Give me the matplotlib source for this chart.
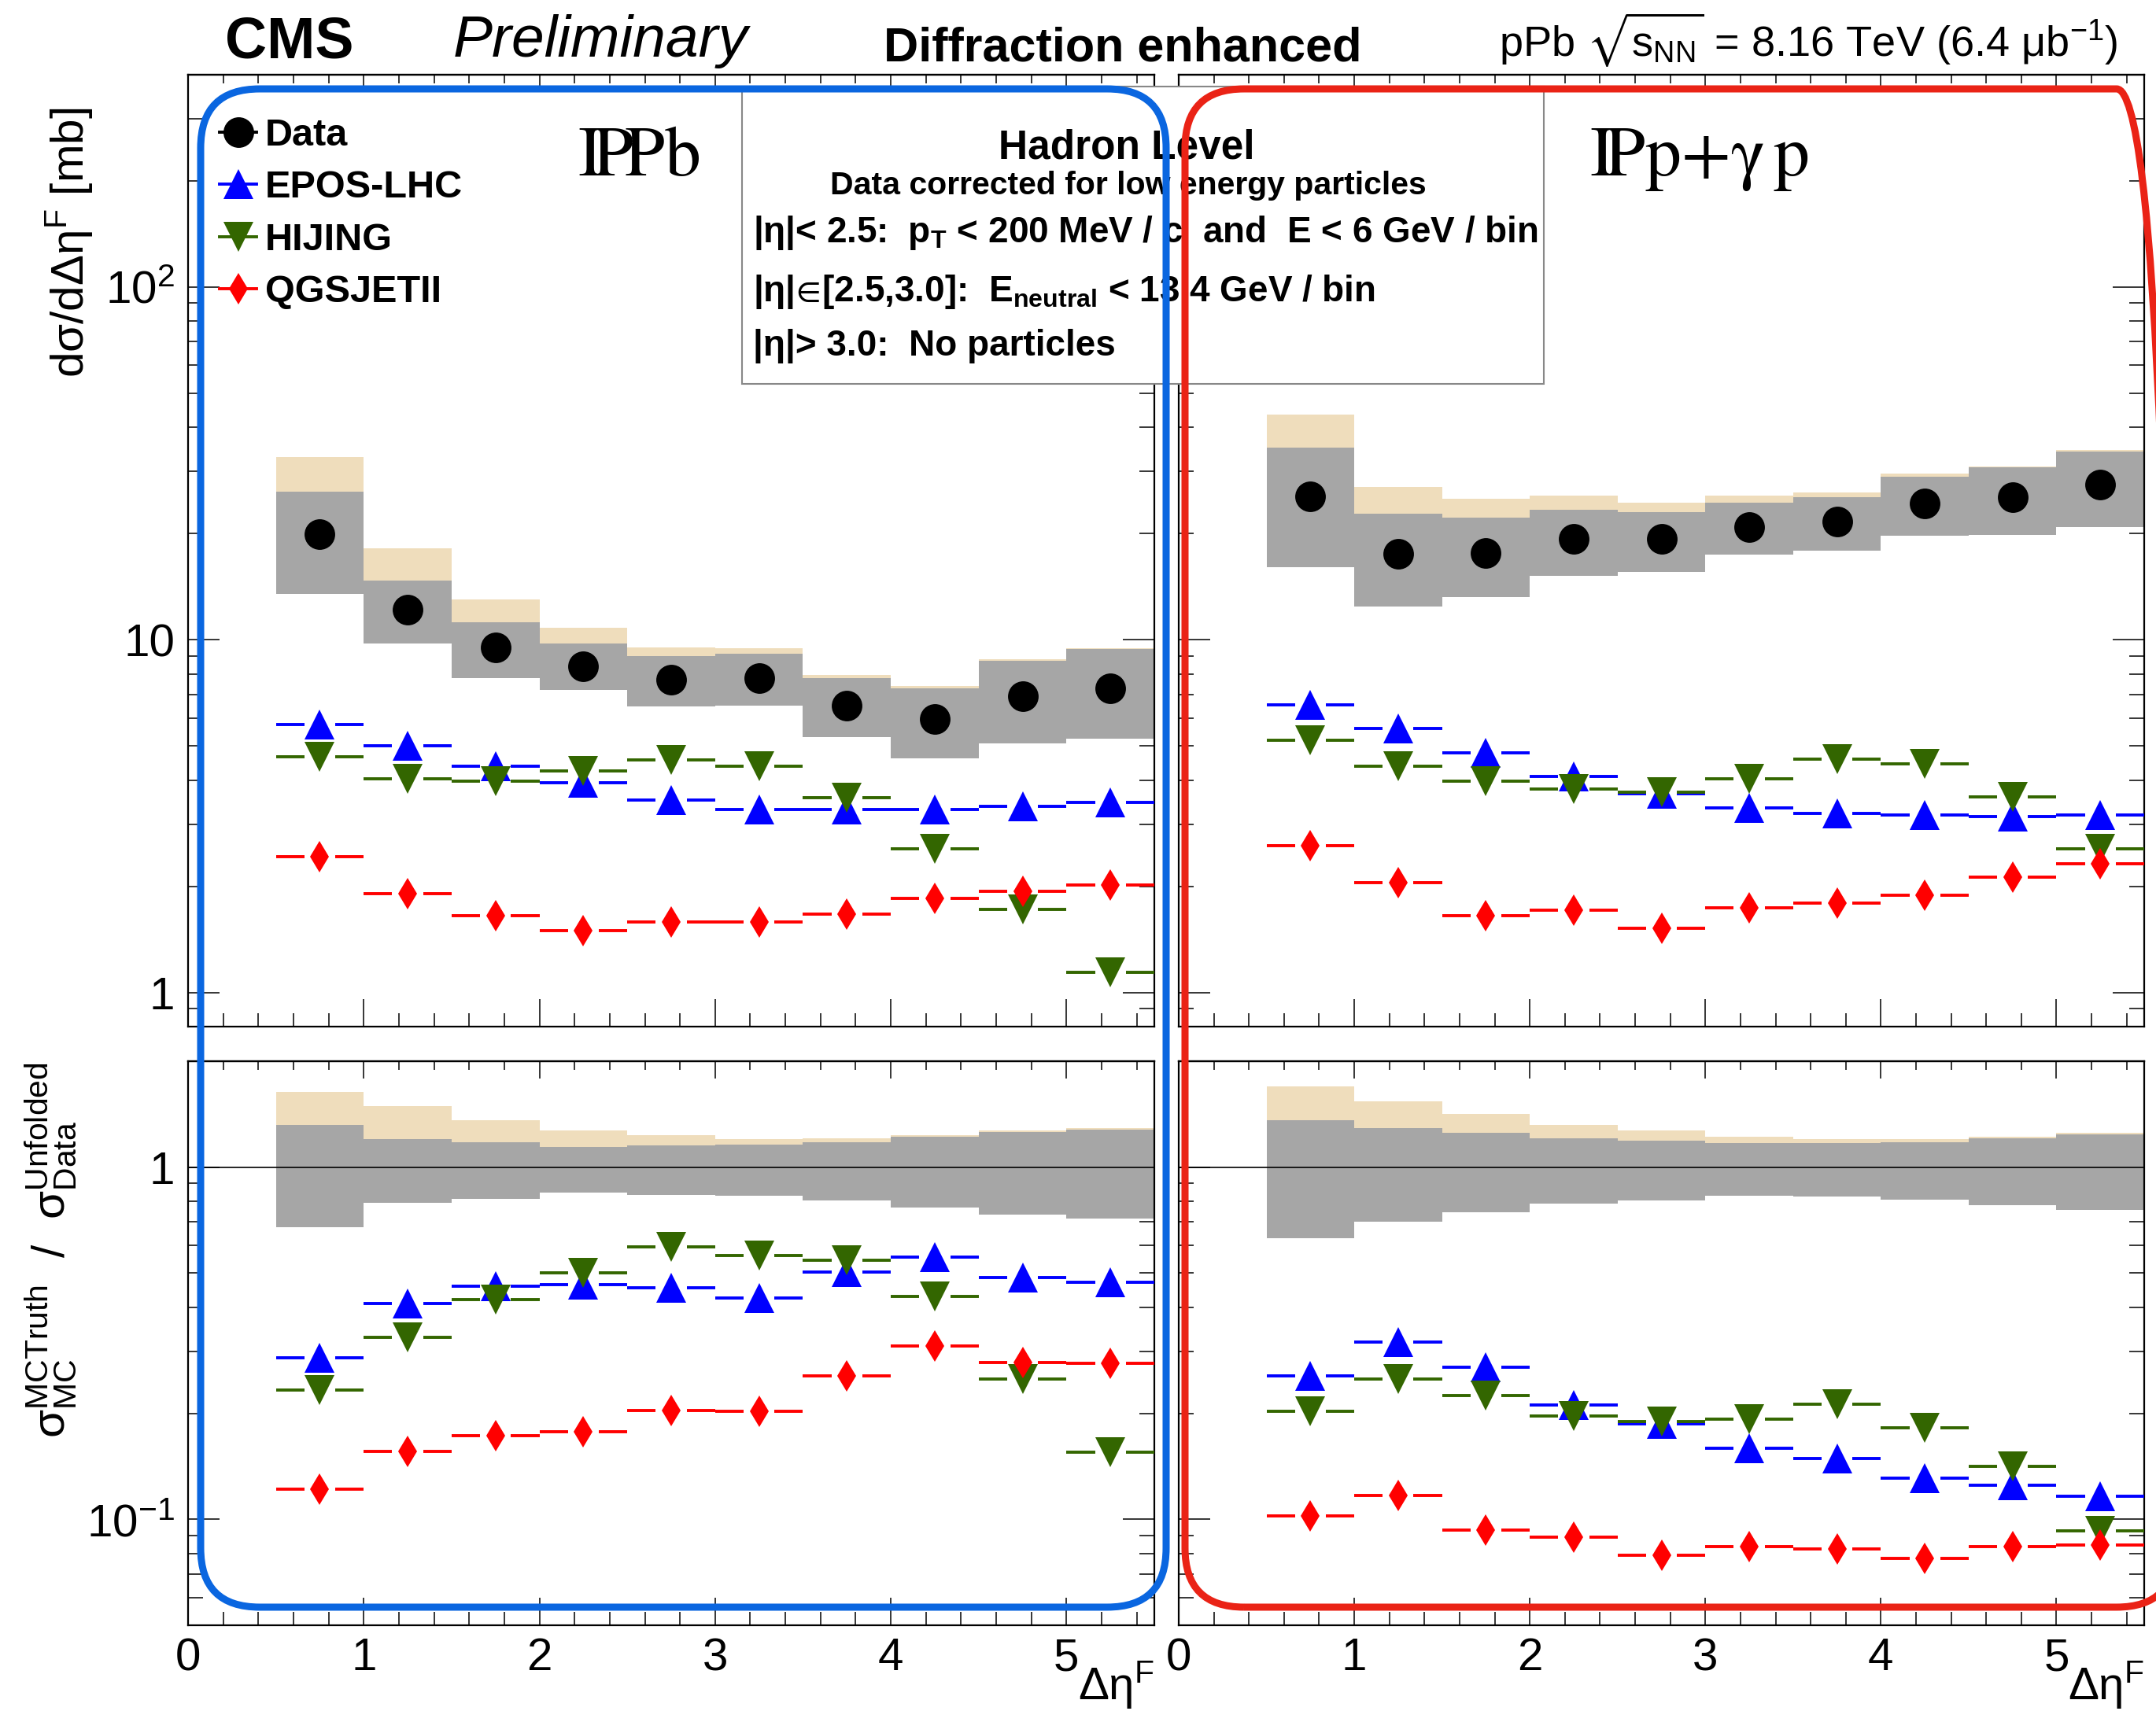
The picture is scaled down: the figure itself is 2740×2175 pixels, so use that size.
import numpy as np
import matplotlib
matplotlib.use('Agg')
import matplotlib.pyplot as plt
from matplotlib.patches import FancyBboxPatch, Rectangle
from matplotlib.ticker import MultipleLocator, LogLocator, FuncFormatter, NullFormatter
from matplotlib.transforms import IdentityTransform
from matplotlib.lines import Line2D

plt.rcParams['font.family'] = ['Liberation Sans', 'DejaVu Sans']
plt.rcParams['mathtext.fontset'] = 'custom'
plt.rcParams['mathtext.rm'] = 'Liberation Sans'
plt.rcParams['mathtext.it'] = 'Liberation Sans:italic'
plt.rcParams['mathtext.bf'] = 'Liberation Sans:bold'
plt.rcParams['mathtext.fallback'] = 'stixsans'

W, H = 2740, 2175

# bins in delta eta^F
bin_edges = [0.5, 1.0, 1.5, 2.0, 2.5, 3.0, 3.5, 4.0, 4.5, 5.0, 5.5]

# IP Pb (left) cross sections [mb]
data_pb = [19.9, 12.2, 9.5, 8.4, 7.7, 7.8, 6.5, 5.96, 6.9, 7.3]
band_lo_pb = [13.5, 9.75, 7.78, 7.2, 6.46, 6.5, 5.29, 4.6, 5.07, 5.23]
band_hi_pb = [26.3, 14.7, 11.2, 9.75, 8.97, 9.12, 7.78, 7.27, 8.7, 9.4]
tan_hi_pb = [33.0, 18.2, 13.0, 10.8, 9.5, 9.45, 7.94, 7.38, 8.8, 9.45]
epos_pb = [5.74, 5.0, 4.37, 3.93, 3.51, 3.30, 3.30, 3.30, 3.37, 3.45]
hijing_pb = [4.65, 4.03, 3.98, 4.24, 4.57, 4.37, 3.57, 2.55, 1.72, 1.14]
qgsjet_pb = [2.43, 1.91, 1.65, 1.50, 1.58, 1.58, 1.67, 1.85, 1.94, 2.02]

# IP p + gamma p (right) cross sections [mb]
data_p = [25.5, 17.5, 17.6, 19.3, 19.3, 20.9, 21.6, 24.3, 25.4, 27.5]
band_lo_p = [16.1, 12.4, 13.2, 15.2, 15.6, 17.4, 17.9, 19.7, 19.8, 20.9]
band_hi_p = [35.1, 22.8, 22.2, 23.4, 23.0, 24.5, 25.4, 29.0, 30.8, 34.1]
tan_hi_p = [43.5, 27.1, 25.1, 25.6, 24.5, 25.6, 26.1, 29.6, 31.0, 34.5]
epos_p = [6.53, 5.6, 4.77, 4.09, 3.65, 3.34, 3.21, 3.18, 3.16, 3.19]
hijing_p = [5.2, 4.37, 3.98, 3.77, 3.69, 4.03, 4.58, 4.44, 3.58, 2.55]
qgsjet_p = [2.61, 2.05, 1.65, 1.71, 1.52, 1.74, 1.79, 1.89, 2.12, 2.32]

# ratios MC / data, left
rband_lo_pb = [0.676, 0.794, 0.814, 0.848, 0.836, 0.83, 0.806, 0.77, 0.735, 0.713]
rband_hi_pb = [1.32, 1.20, 1.18, 1.14, 1.155, 1.16, 1.18, 1.22, 1.26, 1.28]
rtan_hi_pb = [1.64, 1.49, 1.36, 1.27, 1.23, 1.20, 1.21, 1.23, 1.27, 1.29]
repos_pb = [0.287, 0.409, 0.46, 0.465, 0.455, 0.424, 0.505, 0.556, 0.487, 0.47]
rhijing_pb = [0.233, 0.329, 0.421, 0.501, 0.593, 0.56, 0.545, 0.429, 0.25, 0.155]
rqgsjet_pb = [0.122, 0.156, 0.173, 0.177, 0.204, 0.203, 0.255, 0.311, 0.279, 0.277]

# ratios MC / data, right
rband_lo_p = [0.63, 0.70, 0.744, 0.79, 0.804, 0.83, 0.827, 0.81, 0.78, 0.755]
rband_hi_p = [1.36, 1.29, 1.25, 1.21, 1.19, 1.17, 1.17, 1.18, 1.21, 1.24]
rtan_hi_p = [1.70, 1.54, 1.415, 1.32, 1.27, 1.22, 1.20, 1.20, 1.22, 1.25]
repos_p = [0.256, 0.318, 0.27, 0.211, 0.187, 0.159, 0.149, 0.131, 0.125, 0.116]
rhijing_p = [0.203, 0.25, 0.225, 0.196, 0.19, 0.192, 0.212, 0.182, 0.141, 0.0926]
rqgsjet_p = [0.102, 0.117, 0.093, 0.089, 0.079, 0.0835, 0.0825, 0.0774, 0.0835, 0.0844]

GRAY = '#a6a6a6'
TAN = '#efddbc'
BLUE = '#0000ff'
GREEN = '#336600'
RED = '#ff0000'
LW = 2.8
GAP = 0.088

edges = np.array(bin_edges)
lo_e, hi_e = edges[:-1], edges[1:]
centers = (lo_e + hi_e) / 2


def px_box(x0, y0, x1, y1):
    return [x0 / W, 1 - y1 / H, (x1 - x0) / W, (y1 - y0) / H]


def style(ax, ylim, ylabels, show_y, show_x):
    ax.set_xlim(0, 5.5)
    ax.set_yscale('log')
    ax.set_ylim(*ylim)
    ax.xaxis.set_major_locator(MultipleLocator(1))
    ax.xaxis.set_minor_locator(MultipleLocator(0.2))
    ax.yaxis.set_major_locator(LogLocator(base=10, numticks=20))
    ax.yaxis.set_minor_locator(LogLocator(base=10, subs=np.arange(2, 10), numticks=20))
    ax.yaxis.set_minor_formatter(NullFormatter())
    ax.yaxis.set_major_formatter(FuncFormatter(
        lambda v, _: ylabels.get(int(round(np.log10(v))), '')))
    ax.tick_params(axis='x', which='major', direction='in', length=25, width=1.1,
                   top=False, labelsize=42, pad=11, labelbottom=show_x)
    ax.tick_params(axis='x', which='minor', direction='in', length=12, width=1.1, top=False)
    ax.tick_params(axis='y', which='major', direction='in', length=29, width=1.1,
                   left=True, right=True, labelsize=42, pad=12, labelleft=show_y)
    ax.tick_params(axis='y', which='minor', direction='in', length=14, width=1.1,
                   left=True, right=True)
    for s in ax.spines.values():
        s.set_linewidth(1.6)
    sec = ax.secondary_xaxis('top')
    sec.xaxis.set_major_locator(MultipleLocator(1))
    sec.xaxis.set_minor_locator(MultipleLocator(0.2))
    sec.xaxis.set_major_formatter(NullFormatter())
    sec.tick_params(which='major', direction='in', length=16, width=1.1)
    sec.tick_params(which='minor', direction='in', length=8, width=1.1)
    sec.spines['top'].set_linewidth(1.6)


def draw(ax, lo, hi, tan, models, data=None):
    lo = np.array(lo)
    ax.bar(centers, np.array(tan) - lo, bottom=lo, width=0.5, color=TAN, linewidth=0, zorder=1)
    ax.bar(centers, np.array(hi) - lo, bottom=lo, width=0.5, color=GRAY, linewidth=0, zorder=2)
    for vals, color, marker, ms in models:
        ax.hlines(vals, lo_e, centers - GAP, color=color, lw=LW, zorder=4)
        ax.hlines(vals, centers + GAP, hi_e, color=color, lw=LW, zorder=4)
        ax.plot(centers, vals, ls='none', marker=marker, ms=ms, color=color, mew=0, zorder=5)
    if data is not None:
        ax.plot(centers, data, ls='none', marker='o', ms=28, color='black', mew=0, zorder=6)


fig = plt.figure(figsize=(W / 100, H / 100), dpi=100)
ax_tl = fig.add_axes(px_box(239, 95, 1467, 1305))
ax_tr = fig.add_axes(px_box(1498, 95, 2725, 1305))
ax_bl = fig.add_axes(px_box(239, 1349, 1467, 2066))
ax_br = fig.add_axes(px_box(1498, 1349, 2725, 2066))

top_labels = {0: '1', 1: '10', 2: '$10^{2}$'}
bot_labels = {0: '1', -1: '$10^{-1}$'}

mk = [('^', 27), ('v', 27), ('d', 20)]
cols = [BLUE, GREEN, RED]

draw(ax_tl, band_lo_pb, band_hi_pb, tan_hi_pb,
     [(v, c, m, s) for v, c, (m, s) in zip([epos_pb, hijing_pb, qgsjet_pb], cols, mk)], data_pb)
draw(ax_tr, band_lo_p, band_hi_p, tan_hi_p,
     [(v, c, m, s) for v, c, (m, s) in zip([epos_p, hijing_p, qgsjet_p], cols, mk)], data_p)
draw(ax_bl, rband_lo_pb, rband_hi_pb, rtan_hi_pb,
     [(v, c, m, s) for v, c, (m, s) in zip([repos_pb, rhijing_pb, rqgsjet_pb], cols, mk)])
draw(ax_br, rband_lo_p, rband_hi_p, rtan_hi_p,
     [(v, c, m, s) for v, c, (m, s) in zip([repos_p, rhijing_p, rqgsjet_p], cols, mk)])

for ax in (ax_bl, ax_br):
    ax.axhline(1, color='black', lw=1.2, zorder=3)

style(ax_tl, (0.8, 400), top_labels, True, False)
style(ax_tr, (0.8, 400), top_labels, False, False)
style(ax_bl, (0.05, 2.0), bot_labels, True, True)
style(ax_br, (0.05, 2.0), bot_labels, False, True)

for ax in (ax_bl, ax_br):
    ax.set_xlabel('Δη$^{\\mathrm{F}}$', fontsize=42, ha='right', va='baseline')
    ax.xaxis.set_label_coords(1.0, (2066 - 2160) / 717)

# panel labels (pomeron symbol written as overlapping I and P)
ax_tl.text((734 - 239) / 1228, (1305 - 223) / 1210, r'$\mathrm{I\!P\!Pb}$',
           transform=ax_tl.transAxes, fontsize=66, math_fontfamily='stix', va='baseline')
ax_tr.text((2020 - 1498) / 1227, (1305 - 223) / 1210, r'$\mathrm{I\!Pp{+}\gamma\,p}$',
           transform=ax_tr.transAxes, fontsize=66, math_fontfamily='stix', va='baseline')

# legend
handles = [Line2D([], [], color='black', marker='o', ms=28, lw=LW, mew=0),
           Line2D([], [], color=BLUE, marker='^', ms=27, lw=LW, mew=0),
           Line2D([], [], color=GREEN, marker='v', ms=27, lw=LW, mew=0),
           Line2D([], [], color=RED, marker='d', ms=20, lw=LW, mew=0)]
ax_tl.legend(handles, ['Data', 'EPOS-LHC', 'HIJING', 'QGSJETII'], loc='upper left',
             bbox_to_anchor=((279 - 239) / 1228, (1305 - 150) / 1210), frameon=False,
             borderpad=0, borderaxespad=0, handlelength=0.97, handletextpad=0.22,
             labelspacing=0.44, numpoints=1, prop={'size': 35, 'weight': 'bold'})

# axis titles
fig.text(106 / W, 1 - 137 / H, 'dσ/dΔη$^{\\mathrm{F}}$ [mb]', rotation=90,
         rotation_mode='anchor', ha='right', va='baseline', fontsize=42)
fig.text(82 / W, 1 - 1350 / H,
         r'$\mathrm{\sigma}^{\mathrm{MCTruth}}_{\mathrm{MC}}$  /  $\mathrm{\sigma}^{\mathrm{Unfolded}}_{\mathrm{Data}}$',
         rotation=90, rotation_mode='anchor', ha='right', va='baseline', fontsize=42)

# header
fig.text(286 / W, 1 - 73 / H, 'CMS', fontsize=53, fontweight='bold', va='baseline')
fig.text(576 / W, 1 - 72 / H, 'Preliminary', fontsize=54, fontstyle='italic', va='baseline')
fig.text(1123 / W, 1 - 78 / H, 'Diffraction enhanced', fontsize=44, fontweight='bold', va='baseline')
fig.text(1905 / W, 1 - 72 / H,
         r'pPb $\sqrt{\mathrm{s}_{\mathrm{NN}}}$ = 8.16 TeV (6.4 μb$^{\mathrm{-1}}$)',
         fontsize=39, va='baseline')

# info box
fig.add_artist(Rectangle((943 / W, 1 - 488 / H), 1019 / W, 378 / H, transform=fig.transFigure,
                         facecolor='white', edgecolor='#888888', lw=1.5, zorder=4))
fig.text(1432 / W, 1 - 202 / H, 'Hadron Level', fontsize=37, fontweight='bold',
         ha='center', va='baseline', zorder=5)
fig.text(1434 / W, 1 - 247 / H, 'Data corrected for low energy particles', fontsize=29.5,
         fontweight='bold', ha='center', va='baseline', zorder=5)
fig.text(957 / W, 1 - 308 / H,
         r'|η|< 2.5:  p$_{\mathbf{T}}$ < 200 MeV / c  and  E < 6 GeV / bin',
         fontsize=33, fontweight='bold', va='baseline', zorder=5)
fig.text(957 / W, 1 - 383 / H,
         r'|η|$\!\in\!$[2.5,3.0]:  E$_{\mathbf{neutral}}$ < 13.4 GeV / bin',
         fontsize=33, fontweight='bold', va='baseline', zorder=5)
fig.text(957 / W, 1 - 452 / H, '|η|> 3.0:  No particles',
         fontsize=33, fontweight='bold', va='baseline', zorder=5)

# hand-drawn highlight boxes
for x0, x1, col in [(255, 1482, '#0a66e0'), (1506, 2765, '#ea2316')]:
    fig.add_artist(FancyBboxPatch((x0, H - 2043), x1 - x0, 2043 - 113,
                                  boxstyle='round,pad=0,rounding_size=75',
                                  transform=IdentityTransform(), facecolor='none',
                                  edgecolor=col, lw=6.5, zorder=10))

fig.savefig('out.png', dpi=100)
